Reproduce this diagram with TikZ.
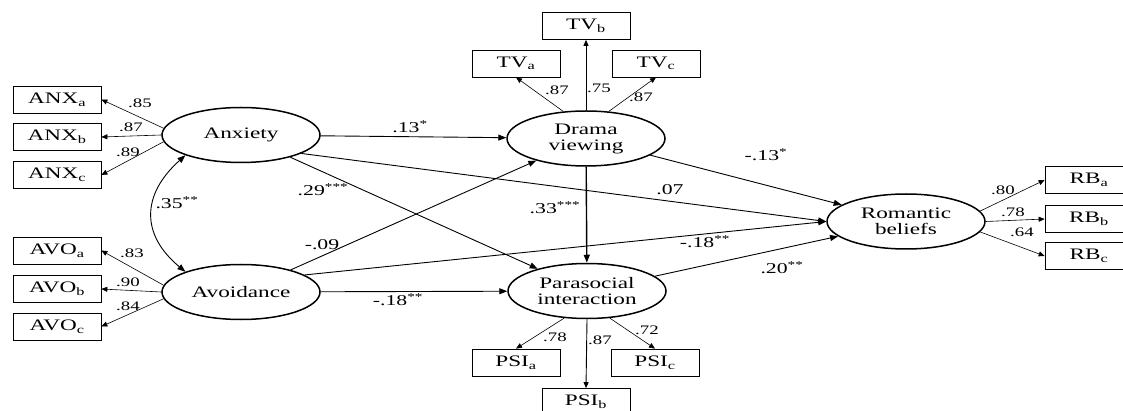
\documentclass[tikz,border=0pt]{standalone}
\usepackage{fontspec}
\setmainfont{Liberation Serif}[FakeStretch=1.45]
\usetikzlibrary{arrows.meta,shapes.geometric}
\newcommand{\stars}[1]{\textsuperscript{#1}}

\begin{document}
\begin{tikzpicture}[x=1pt, y=-1pt,
  latent/.style={ellipse, draw, line width=1.5pt, minimum width=158pt,
                 minimum height=55pt, inner sep=0pt, align=center,
                 font=\fontsize{16}{16}\selectfont},
  ind/.style={draw, line width=0.7pt, minimum width=88pt, minimum height=27pt,
              inner sep=0pt, font=\fontsize{16}{16}\selectfont},
  load/.style={-{Triangle[length=6pt,width=5pt]}, line width=0.6pt},
  arr/.style={-{Triangle[length=8pt,width=6pt]}, line width=0.9pt},
  corr/.style={{Triangle[length=8pt,width=6pt]}-{Triangle[length=8pt,width=6pt]}, line width=0.9pt},
  lab/.style={font=\fontsize{15}{15}\selectfont, inner sep=1pt},
  llab/.style={font=\fontsize{13}{13}\selectfont, inner sep=1pt}
]
\useasboundingbox (0,0) rectangle (1123,411);
\clip (0,0) rectangle (1123,411);

% latent variables
\node[latent] (anx) at (241,135) {Anxiety};
\node[latent] (avo) at (241,292) {Avoidance};
\node[latent] (drama) at (586,138.5) {Drama\\viewing};
\node[latent] (psi) at (587,291) {Parasocial\\interaction};
\node[latent] (rom) at (906,221.5) {Romantic\\beliefs};

% indicators
\node[ind] (anxA) at (57,99.5) {ANX\textsubscript{a}};
\node[ind] (anxB) at (57,137) {ANX\textsubscript{b}};
\node[ind] (anxC) at (57,175) {ANX\textsubscript{c}};
\node[ind] (avoA) at (57,250.5) {AVO\textsubscript{a}};
\node[ind] (avoB) at (57,289) {AVO\textsubscript{b}};
\node[ind] (avoC) at (57,326.5) {AVO\textsubscript{c}};
\node[ind] (tvA) at (516,63.5) {TV\textsubscript{a}};
\node[ind] (tvB) at (586,26) {TV\textsubscript{b}};
\node[ind] (tvC) at (656,63.5) {TV\textsubscript{c}};
\node[ind] (psiA) at (516,362.5) {PSI\textsubscript{a}};
\node[ind] (psiB) at (586,402) {PSI\textsubscript{b}};
\node[ind] (psiC) at (655,362.5) {PSI\textsubscript{c}};
\node[ind] (rbA) at (1089,180) {RB\textsubscript{a}};
\node[ind] (rbB) at (1089,219) {RB\textsubscript{b}};
\node[ind] (rbC) at (1089,256) {RB\textsubscript{c}};

% loadings
\draw[load] (anx.175) -- (anxA.east);
\draw[load] (anx.west) -- (anxB.east);
\draw[load] (anx.185) -- (anxC.east);
\draw[load] (avo.175) -- (avoA.east);
\draw[load] (avo.west) -- (avoB.east);
\draw[load] (avo.185) -- (avoC.east);
\draw[load] (drama.130) -- (tvA.south);
\draw[load, line width=0.9pt] (drama.north) -- (tvB.south);
\draw[load] (drama.50) -- (tvC.south);
\draw[load] (psi.230) -- (psiA.north);
\draw[load, line width=0.9pt] (psi.south) -- (psiB.north);
\draw[load] (psi.310) -- (psiC.north);
\draw[load] (rom.8) -- (rbA.west);
\draw[load] (rom.east) -- (rbB.west);
\draw[load] (rom.352) -- (rbC.west);

% structural paths
\draw[corr] (anx.200) .. controls (141,195) and (141,235) .. (avo.160);
\draw[arr] (anx) -- (drama);
\draw[arr] (anx) -- (psi);
\draw[arr] (anx.343) -- (rom.west);
\draw[arr] (avo) -- (drama);
\draw[arr] (avo.15) -- (rom.west);
\draw[arr] (avo) -- (psi);
\draw[arr, line width=1.4pt] (drama) -- (psi);
\draw[arr] (drama) -- (rom);
\draw[arr] (psi) -- (rom);

% loading values
\node[llab] (vAnxA) at (140,103) {.85};
\node[llab] (vAnxB) at (131,127) {.87};
\node[llab] (vAnxC) at (128,152) {.89};
\node[llab] (vAvoA) at (132,253) {.83};
\node[llab] (vAvoB) at (128,282) {.90};
\node[llab] (vAvoC) at (128,306) {.84};
\node[llab] (vTvA) at (557,90) {.87};
\node[llab] (vTvB) at (599,88) {.75};
\node[llab] (vTvC) at (641,97) {.87};
\node[llab] (vPsiA) at (555,337) {.78};
\node[llab] (vPsiB) at (600,340) {.87};
\node[llab] (vPsiC) at (647,330) {.72};
\node[llab] (vRbA) at (1003,190) {.80};
\node[llab] (vRbB) at (1013,212) {.78};
\node[llab] (vRbC) at (1022,232) {.64};

% path coefficients
\node[lab] (cCorr) at (177,203) {.35\stars{**}};
\node[lab] (cAnxDr) at (410,127) {.13\stars{*}};
\node[lab] (cAnxPs) at (323,190) {.29\stars{***}};
\node[lab] (cAnxRo) at (670,190) {.07};
\node[lab] (cAvoDr) at (322,245) {-.09};
\node[lab] (cAvoRo) at (705,242) {-.18\stars{**}};
\node[lab] (cAvoPs) at (398,300) {-.18\stars{**}};
\node[lab] (cDrPs) at (555,208) {.33\stars{***}};
\node[lab] (cDrRo) at (766,155) {-.13\stars{*}};
\node[lab] (cPsRo) at (782,268) {.20\stars{**}};
\end{tikzpicture}
\end{document}
